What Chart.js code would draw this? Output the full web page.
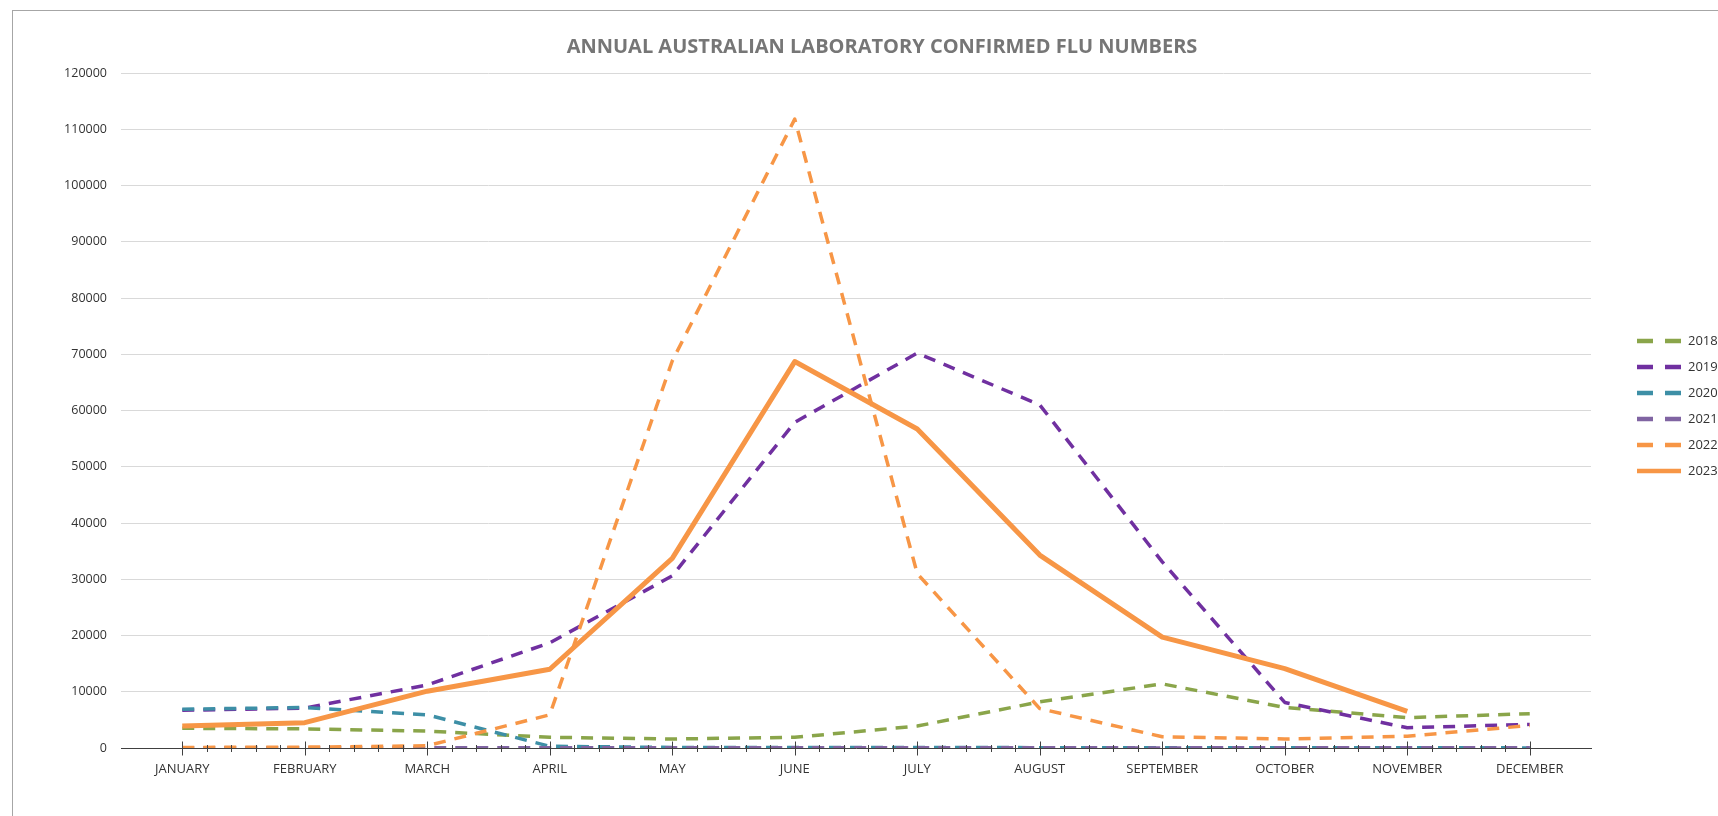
<!DOCTYPE html>
<html>
<head>
<meta charset="utf-8">
<script src="https://cdn.jsdelivr.net/npm/chart.js@4/dist/chart.umd.min.js"></script>
<style>
  html, body { margin: 0; padding: 0; background: #ffffff; overflow: hidden; }
  #wrap { position: relative; width: 1718px; height: 816px; }
  #frame { position: absolute; left: 12px; top: 10px; width: 1800px; height: 900px; border: 1px solid #a6a6a6; box-sizing: border-box; }
  #c { position: absolute; left: 0; top: 0; }
</style>
</head>
<body>
<div id="wrap">
  <div id="frame"></div>
  <canvas id="c" width="1718" height="816"></canvas>
</div>
<script>
const months = ['JANUARY', 'FEBRUARY', 'MARCH', 'APRIL', 'MAY', 'JUNE', 'JULY', 'AUGUST', 'SEPTEMBER', 'OCTOBER', 'NOVEMBER', 'DECEMBER'];
const flu2018 = [3500, 3400, 3000, 1900, 1600, 1900, 3900, 8200, 11400, 7200, 5400, 6100];
const flu2019 = [6700, 7100, 11200, 18700, 30600, 57900, 70200, 61000, 33100, 8100, 3600, 4200];
const flu2020 = [6900, 7200, 5900, 300, 100, 100, 100, 60, 30, 30, 40, 20];
const flu2021 = [60, 50, 50, 40, 60, 50, 40, 30, 20, 30, 40, 50];
const flu2022 = [100, 150, 400, 5900, 68800, 111800, 31000, 7000, 2000, 1600, 2100, 4000];
const flu2023 = [3900, 4500, 10100, 14000, 33700, 68700, 56700, 34300, 19700, 14100, 6500, null];
const seriesLabels = ['2018', '2019', '2020', '2021', '2022', '2023'];
const titleText = 'ANNUAL AUSTRALIAN LABORATORY CONFIRMED FLU NUMBERS';

const FONT = "'Open Sans', 'Liberation Sans', sans-serif";
const DASH = [12, 9];

function ds(label, data, color, dashed, order) {
  return {
    label, data,
    borderColor: color, backgroundColor: color,
    borderWidth: dashed ? 3.5 : 5,
    borderDash: dashed ? DASH : [],
    borderCapStyle: 'butt',
    borderJoinStyle: 'round',
    pointRadius: 0, pointHoverRadius: 0,
    tension: 0, fill: false, spanGaps: false,
    order
  };
}

const axisTicks = {
  id: 'axisTicks',
  afterDatasetsDraw(chart) {
    const xs = chart.scales.x, ys = chart.scales.y, ctx = chart.ctx;
    const y0 = Math.round(ys.getPixelForValue(0)) + 0.5;
    ctx.save();
    ctx.strokeStyle = '#404040';
    ctx.lineWidth = 1;
    ctx.beginPath();
    for (let i = 0; i < months.length; i++) {
      const px = Math.round(xs.getPixelForValue(i)) + 0.5;
      ctx.moveTo(px, y0 - 7); ctx.lineTo(px, y0 + 7);
      if (i < months.length - 1) {
        for (let k = 1; k < 5; k++) {
          const mx = Math.round(xs.getPixelForValue(i + k / 5)) + 0.5;
          ctx.moveTo(mx, y0 - 3.5); ctx.lineTo(mx, y0 + 3.5);
        }
      }
    }
    ctx.stroke();
    ctx.restore();
  }
};

const sideLegend = {
  id: 'sideLegend',
  afterDraw(chart) {
    const ctx = chart.ctx;
    const x0 = 1637, len = 44, tx = 1688, yStart = 341, step = 26;
    ctx.save();
    ctx.font = '13px ' + FONT;
    ctx.textBaseline = 'middle';
    ctx.textAlign = 'left';
    chart.data.datasets.forEach((d, i) => {
      const y = yStart + i * step;
      ctx.beginPath();
      ctx.strokeStyle = d.borderColor;
      ctx.lineWidth = 4.5;
      ctx.lineCap = 'butt';
      ctx.setLineDash(d.borderDash.length ? [16, 12] : []);
      ctx.moveTo(x0, y); ctx.lineTo(x0 + len, y);
      ctx.stroke();
      ctx.setLineDash([]);
      ctx.fillStyle = '#333333';
      ctx.fillText(d.label, tx, y + 0.5);
    });
    ctx.restore();
  }
};

new Chart(document.getElementById('c'), {
  type: 'line',
  data: {
    labels: months,
    datasets: [
      ds(seriesLabels[0], flu2018, '#8aa54a', true, 6),
      ds(seriesLabels[1], flu2019, '#7030a0', true, 5),
      ds(seriesLabels[2], flu2020, '#3d8fa6', true, 4),
      ds(seriesLabels[3], flu2021, '#8064a2', true, 3),
      ds(seriesLabels[4], flu2022, '#f79646', true, 2),
      ds(seriesLabels[5], flu2023, '#f79646', false, 1)
    ]
  },
  options: {
    responsive: false,
    animation: false,
    events: [],
    layout: { padding: { left: 46, right: 0, top: 0, bottom: 0 } },
    plugins: {
      legend: { display: false },
      tooltip: { enabled: false },
      title: {
        display: true,
        text: titleText,
        color: '#767676',
        font: { family: FONT, size: 20, weight: 'bold', lineHeight: 1.2 },
        padding: { top: 35, bottom: 14 }
      }
    },
    scales: {
      x: {
        type: 'category',
        offset: true,
        grid: { display: false, drawTicks: false },
        border: { display: true, color: '#404040', width: 1 },
        ticks: { color: '#333333', font: { family: FONT, size: 13 }, padding: 13, maxRotation: 0, autoSkip: false },
        afterFit: s => { s.height = 68; }
      },
      y: {
        min: 0, max: 120000,
        ticks: { stepSize: 10000, color: '#333333', font: { family: FONT, size: 12.5 }, padding: 14, callback: v => String(v) },
        grid: { color: '#d9d9d9', lineWidth: 1, drawTicks: false },
        border: { display: false },
        afterFit: s => { s.width = 75; }
      },
      yR: {
        position: 'right',
        display: true,
        grid: { display: false, drawTicks: false },
        ticks: { display: false },
        border: { display: false },
        afterFit: s => { s.width = 127; }
      }
    }
  },
  plugins: [axisTicks, sideLegend]
});
</script>
</body>
</html>
